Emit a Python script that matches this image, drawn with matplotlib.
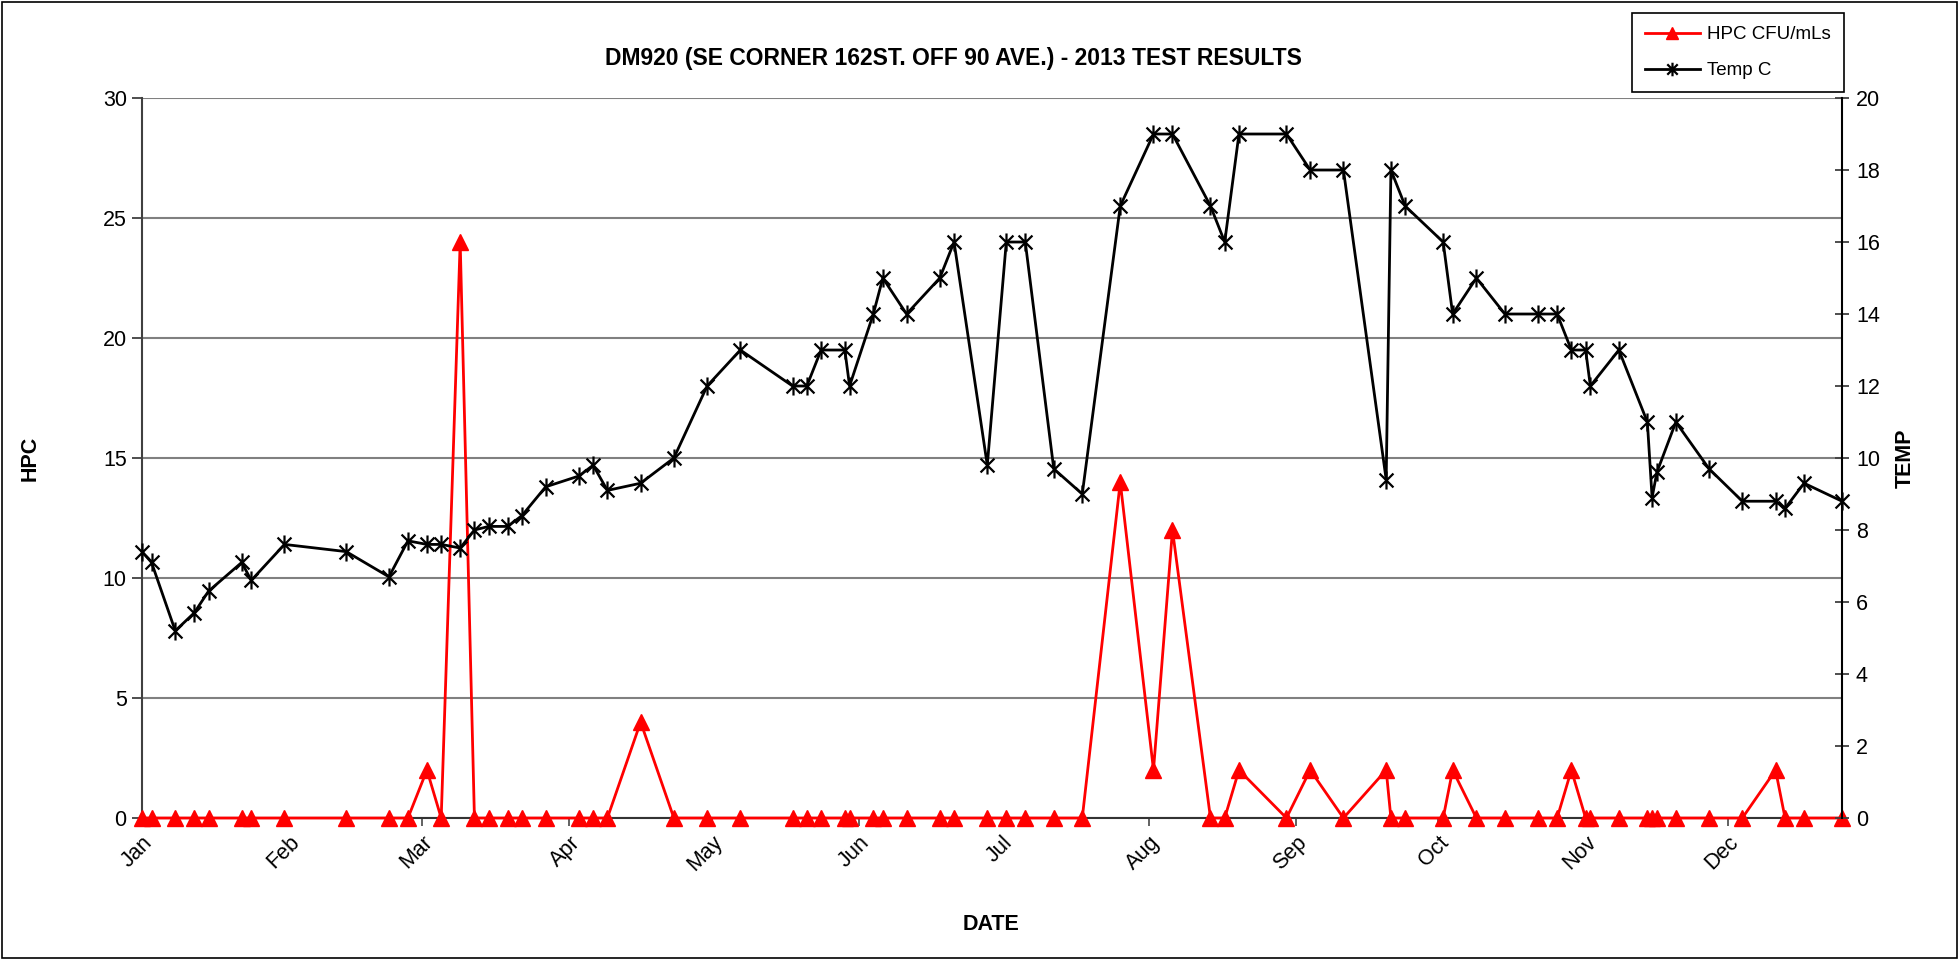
import numpy as np
import matplotlib.pyplot as plt
import matplotlib.dates as mdates
from matplotlib.path import Path
from matplotlib.patches import Rectangle

plt.rcParams['font.family'] = ['Liberation Sans', 'DejaVu Sans']

# sampling dates for DM920, 2013
sample_dates = [
    '2013-01-01', '2013-01-03', '2013-01-08', '2013-01-12', '2013-01-15', '2013-01-22',
    '2013-01-24', '2013-01-31', '2013-02-13', '2013-02-22', '2013-02-26', '2013-03-02',
    '2013-03-05', '2013-03-09', '2013-03-12', '2013-03-15', '2013-03-19', '2013-03-22',
    '2013-03-27', '2013-04-03', '2013-04-06', '2013-04-09', '2013-04-16', '2013-04-23',
    '2013-04-30', '2013-05-07', '2013-05-18', '2013-05-21', '2013-05-24', '2013-05-29',
    '2013-05-30', '2013-06-04', '2013-06-06', '2013-06-11', '2013-06-18', '2013-06-21',
    '2013-06-28', '2013-07-02', '2013-07-06', '2013-07-12', '2013-07-18', '2013-07-26',
    '2013-08-02', '2013-08-06', '2013-08-14', '2013-08-17', '2013-08-20', '2013-08-30',
    '2013-09-04', '2013-09-11', '2013-09-20', '2013-09-21', '2013-09-24', '2013-10-02',
    '2013-10-04', '2013-10-09', '2013-10-15', '2013-10-22', '2013-10-26', '2013-10-29',
    '2013-11-01', '2013-11-02', '2013-11-08', '2013-11-14', '2013-11-15', '2013-11-16',
    '2013-11-20', '2013-11-27', '2013-12-04', '2013-12-11', '2013-12-13', '2013-12-17',
    '2013-12-25',
]

# heterotrophic plate count, CFU/mL
hpc = [
    0, 0, 0, 0, 0, 0, 0, 0, 0, 0, 0, 2,
    0, 24, 0, 0, 0, 0, 0, 0, 0, 0, 4, 0,
    0, 0, 0, 0, 0, 0, 0, 0, 0, 0, 0, 0,
    0, 0, 0, 0, 0, 14, 2, 12, 0, 0, 2, 0,
    2, 0, 2, 0, 0, 0, 2, 0, 0, 0, 0, 2,
    0, 0, 0, 0, 0, 0, 0, 0, 0, 2, 0, 0,
    0,
]

# water temperature, deg C
temp_c = [
    7.4, 7.1, 5.2, 5.7, 6.3, 7.1, 6.6, 7.6, 7.4, 6.7, 7.7, 7.6,
    7.6, 7.5, 8.0, 8.1, 8.1, 8.4, 9.2, 9.5, 9.8, 9.1, 9.3, 10.0,
    12, 13, 12, 12, 13, 13, 12, 14, 15, 14, 15, 16,
    9.8, 16, 16, 9.7, 9.0, 17, 19, 19, 17, 16, 19, 19,
    18, 18, 9.4, 18, 17, 16, 14, 15, 14, 14, 14, 13,
    13, 12, 13, 11, 8.9, 9.6, 11, 9.7, 8.8, 8.8, 8.6, 9.3,
    8.8,
]

dates = np.array(sample_dates, dtype='datetime64[D]')

# star marker: an X with a vertical bar through it
star = Path([(-1, -1), (1, 1), (-1, 1), (1, -1), (0, -1.3), (0, 1.3)],
            [Path.MOVETO, Path.LINETO, Path.MOVETO, Path.LINETO, Path.MOVETO, Path.LINETO])

fig = plt.figure(figsize=(19.59, 9.59), dpi=100)
ax = fig.add_axes([0.0725, 0.147, 0.8678, 0.7508])
ax2 = ax.twinx()

l_hpc, = ax.plot(dates, hpc, color='red', lw=2, marker='^', ms=12,
                 mec='red', mfc='red', clip_on=False, zorder=3)
l_temp, = ax2.plot(dates, temp_c, color='black', lw=2, marker=star, ms=13,
                   mec='black', mew=1.6, clip_on=False, zorder=3)

ax.set_ylim(0, 30)
ax.set_yticks(np.arange(0, 31, 5))
ax2.set_ylim(0, 20)
ax2.set_yticks(np.arange(0, 21, 2))
ax.set_xlim(dates[0], dates[-1])
ax.xaxis.set_major_locator(mdates.MonthLocator())
ax.xaxis.set_major_formatter(mdates.DateFormatter('%b'))

ax.yaxis.grid(True, color='#808080', lw=1.5)
ax.set_axisbelow(True)

for s in ['top', 'right']:
    ax.spines[s].set_visible(False)
for s in ['top', 'left', 'bottom']:
    ax2.spines[s].set_visible(False)
ax.spines['left'].set_color('#404040')
ax.spines['left'].set_linewidth(1.5)
ax.spines['bottom'].set_color('#333333')
ax.spines['bottom'].set_linewidth(1.5)
ax2.spines['right'].set_color('black')
ax2.spines['right'].set_linewidth(1.5)

ax.tick_params(axis='y', direction='out', length=7, width=1.3, color='#404040',
               labelsize=15.5, pad=4)
ax.tick_params(axis='x', direction='out', length=6, width=1.3, color='#555555',
               labelsize=15.5, pad=4)
ax2.tick_params(axis='y', direction='inout', length=10, width=1.3, color='#404040',
                labelsize=15.5, pad=5)
for lab in ax.get_xticklabels():
    lab.set_rotation(45)
    lab.set_ha('right')
    lab.set_rotation_mode('anchor')

fig.text(0.4865, 0.9388, 'DM920 (SE CORNER 162ST. OFF 90 AVE.) - 2013 TEST RESULTS',
         ha='center', va='center', fontsize=16.5, fontweight='bold')
fig.text(30 / 1959, 1 - 458 / 959, 'HPC', rotation=90, ha='center', va='center',
         fontsize=15.5, fontweight='bold')
fig.text(1905 / 1959, 1 - 458 / 959, 'TEMP', rotation=90, ha='center', va='center',
         fontsize=15.5, fontweight='bold')
fig.text(991 / 1959, 1 - 924 / 959, 'DATE', ha='center', va='center',
         fontsize=15.5, fontweight='bold')

leg = fig.legend([l_hpc, l_temp], ['HPC CFU/mLs', 'Temp C'], loc='upper left',
                 bbox_to_anchor=(1632 / 1959, 1 - 13 / 959), fontsize=13.5,
                 frameon=True, fancybox=False, edgecolor='black', framealpha=1,
                 handlelength=2.9, handletextpad=0.4, labelspacing=1.0,
                 borderpad=0.7, borderaxespad=0, markerscale=0.75)
leg.get_frame().set_linewidth(1.2)

# border round the whole chart area
fig.patches.append(Rectangle((0.001, 0.001), 0.998, 0.997, transform=fig.transFigure,
                             fill=False, edgecolor='black', lw=1.2))

fig.savefig('out.png', dpi=100)
